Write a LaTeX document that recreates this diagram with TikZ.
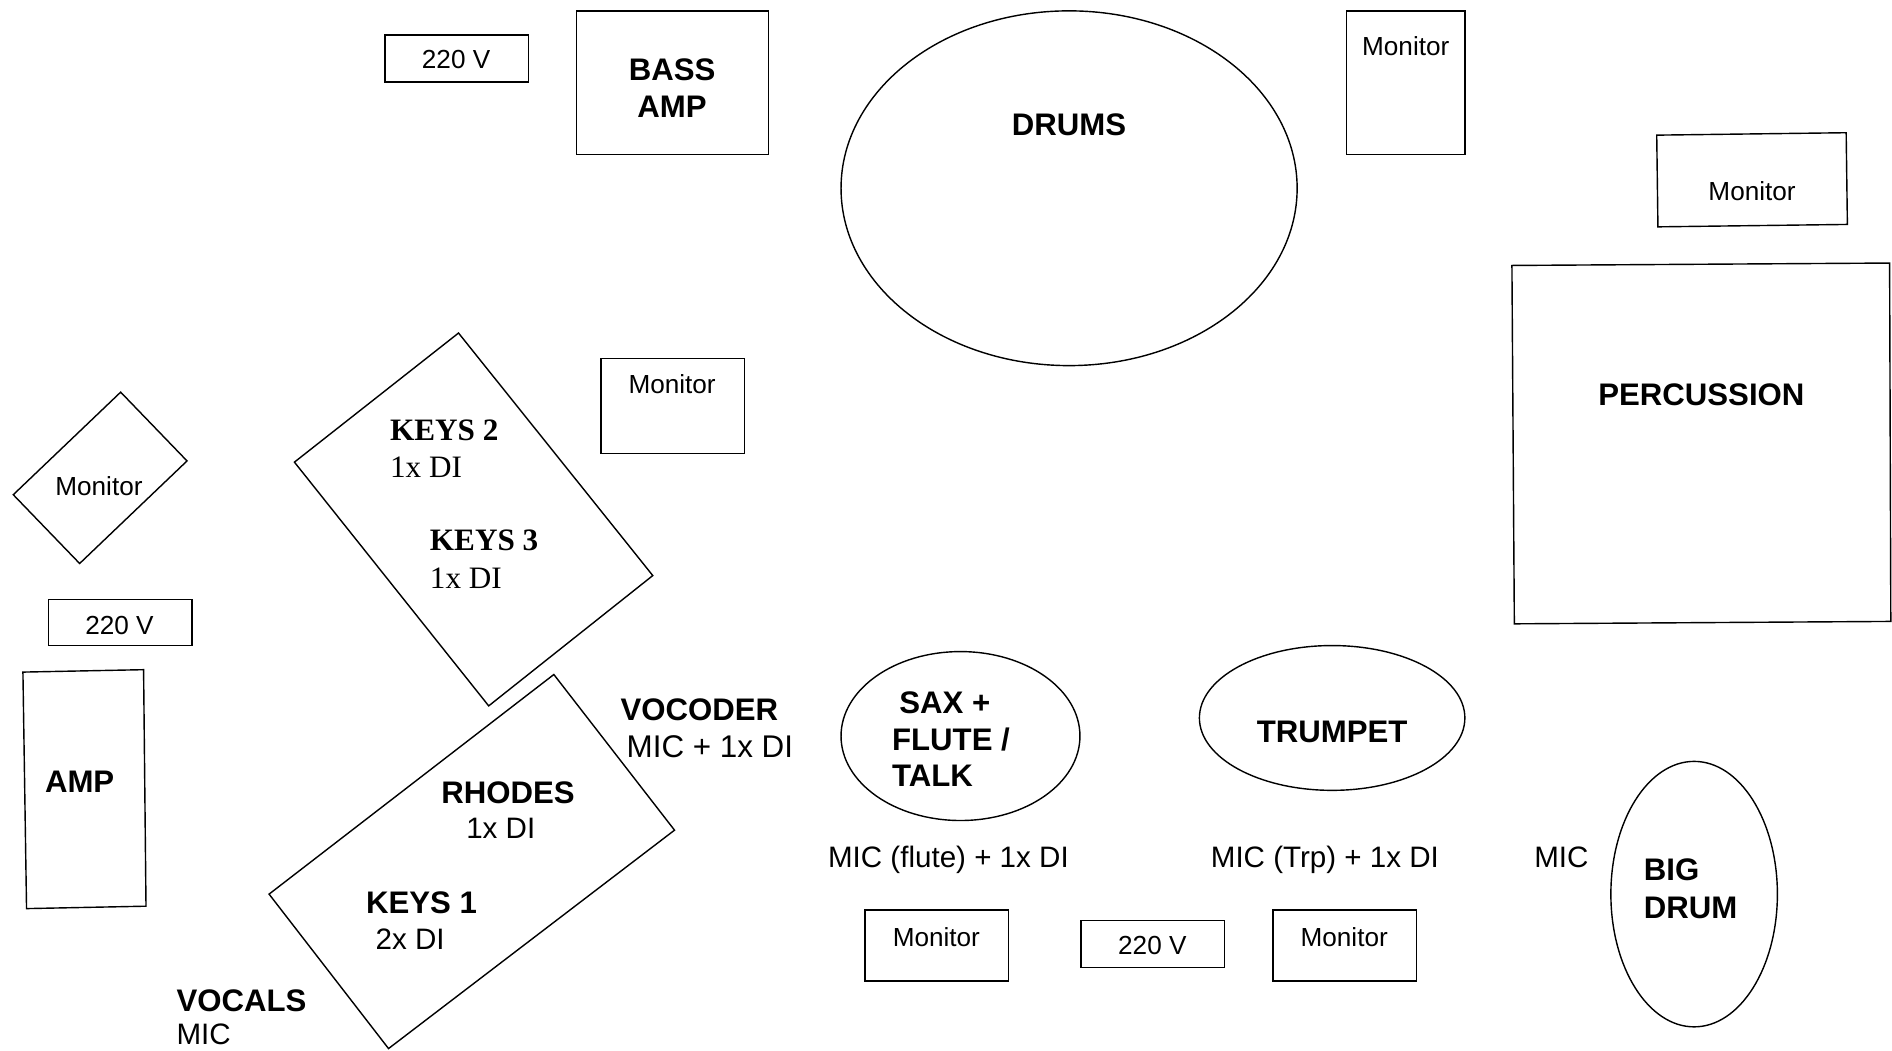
\documentclass[tikz,border=0pt]{standalone}
\usepackage{fontspec}
\setmainfont{Liberation Sans}
\newfontfamily\keysfont{Liberation Serif}

\begin{document}
\begin{tikzpicture}[x=0.6pt, y=-0.6pt,
                    outline/.style={draw=black, line width=0.7pt},
                    txt_small/.style={anchor=base, inner sep=0pt, font=\fontsize{13}{15}\selectfont},
                    txt_reg/.style={anchor=base west, inner sep=0pt, font=\fontsize{14.7}{18}\selectfont},
                    txt_bold/.style={anchor=base, inner sep=0pt, font=\fontsize{15.5}{18}\selectfont\bfseries},
                    txt_serif/.style={anchor=base west, inner sep=0pt, font=\fontsize{15.5}{18}\selectfont\keysfont}]

    \useasboundingbox (0,0) rectangle (1568,871);

    % back line
    \draw[outline] (319,29) rectangle (438,68);
    \draw[outline] (478,9) rectangle (637,128);
    \draw[outline] (886,156) ellipse [x radius=189, y radius=147];
    \draw[outline] (1116,9) rectangle (1214,128);
    \draw[outline] (1373,112) -- (1530,110) -- (1531,186) -- (1374,188) -- cycle;
    \draw[outline] (1253,220) -- (1566,218) -- (1567,515) -- (1255,517) -- cycle;

    \node[txt_small] (pw_back) at (378,57) {220 V};
    \node[txt_bold] (bass_a) at (557,67) {BASS};
    \node[txt_bold] (bass_b) at (557,97) {AMP};
    \node[txt_bold] (drums) at (886,112) {DRUMS};
    \node[txt_small] (mon_dr) at (1165,46) {Monitor};
    \node[txt_small] (mon_pc) at (1452,166) {Monitor};
    \node[txt_bold] (perc) at (1410,336) {PERCUSSION};

    % keys side
    \draw[outline] (498,297) rectangle (617,376);
    \draw[outline] (100,325) -- (155,382) -- (66,467) -- (11,410) -- cycle;
    \draw[outline] (380,276) -- (541,477) -- (405,585) -- (244,383) -- cycle;
    \draw[outline] (40,497) rectangle (159,535);
    \draw[outline] (19,557) -- (119,555) -- (121,751) -- (22,753) -- cycle;
    \draw[outline] (459,559) -- (559,688) -- (322,869) -- (223,741) -- cycle;

    \node[txt_small] (mon_ky) at (557,326) {Monitor};
    \node[txt_small] (mon_vo) at (82,411) {Monitor};
    \node[txt_serif] (keys_b) at (323,365) {\bfseries KEYS 2};
    \node[txt_serif] (keys_b_di) at (323,396) {1x DI};
    \node[txt_serif] (keys_c) at (356,456) {\bfseries KEYS 3};
    \node[txt_serif] (keys_c_di) at (356,488) {1x DI};
    \node[txt_small] (pw_left) at (99,526) {220 V};
    \node[txt_bold] (amp) at (66,657) {AMP};
    \node[txt_bold] (rhodes) at (421,666) {RHODES};
    \node[txt_reg, anchor=base] (rhodes_di) at (415,695) {1x DI};
    \node[txt_bold, anchor=base west] (keys_a) at (303,757) {KEYS 1};
    \node[txt_reg] (keys_a_di) at (311,787) {2x DI};
    \node[txt_bold, anchor=base west] (vocoder) at (514,597) {VOCODER};
    \node[txt_reg, font=\fontsize{15.6}{18}\selectfont] (vocoder_in) at (519,628) {MIC + 1x DI};
    \node[txt_bold, anchor=base west] (vocals) at (146,838) {VOCALS};
    \node[txt_reg] (vocals_in) at (146,866) {MIC};

    % front line
    \draw[outline] (796,610) ellipse [x radius=99, y radius=70];
    \draw[outline] (1104,595) ellipse [x radius=110, y radius=60];
    \draw[outline] (1404,741) ellipse [x radius=69, y radius=110];
    \draw[outline] (717,754) rectangle (836,813);
    \draw[outline] (896,763) rectangle (1015,802);
    \draw[outline] (1055,754) rectangle (1174,813);

    \node[txt_bold, anchor=base west] (sax_a) at (745,591) {SAX +};
    \node[txt_bold, anchor=base west] (sax_b) at (739,622) {FLUTE /};
    \node[txt_bold, anchor=base west] (sax_c) at (739,652) {TALK};
    \node[txt_reg, anchor=base] (sax_in) at (786,719) {MIC (flute) + 1x DI};
    \node[txt_bold] (trp) at (1104,615) {TRUMPET};
    \node[txt_reg, anchor=base] (trp_in) at (1098,719) {MIC (Trp) + 1x DI};
    \node[txt_reg, anchor=base] (drum_in) at (1294,719) {MIC};
    \node[txt_bold, anchor=base west] (bigdrum_a) at (1362,730) {BIG};
    \node[txt_bold, anchor=base west] (bigdrum_b) at (1362,761) {DRUM};
    \node[txt_small] (mon_sx) at (776,784) {Monitor};
    \node[txt_small] (pw_front) at (955,791) {220 V};
    \node[txt_small] (mon_tp) at (1114,784) {Monitor};
\end{tikzpicture}
\end{document}
